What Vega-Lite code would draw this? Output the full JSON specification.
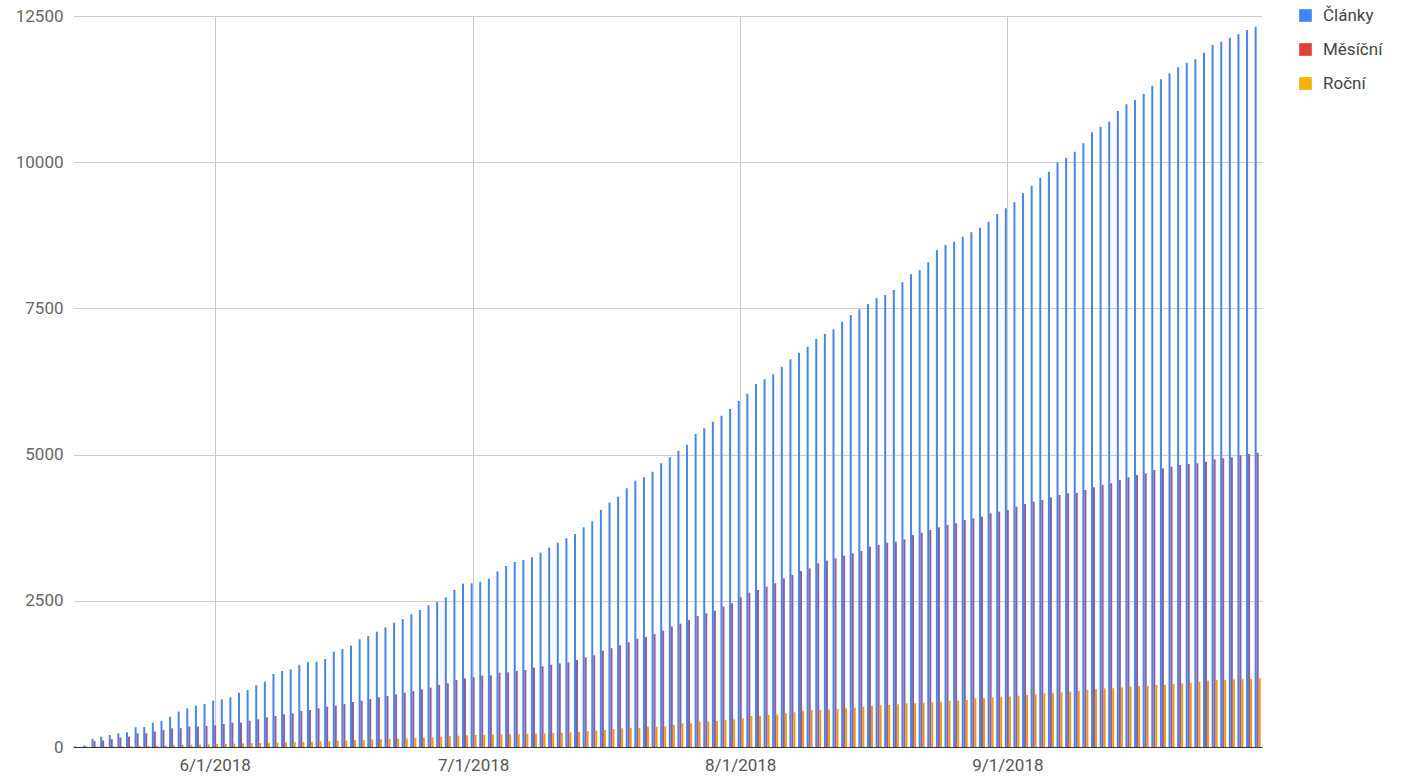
{
  "$schema": "https://vega.github.io/schema/vega-lite/v6.json",
  "width": 1189,
  "height": 731,
  "autosize": "none",
  "padding": {"left": 73, "top": 16, "right": 157, "bottom": 29},
  "background": "white",
  "config": {"view": {"stroke": null}, "font": "Roboto"},
  "data": {"values": [
    {"date":"2018-05-16","Články":10,"Měsíční":0,"Roční":0},
    {"date":"2018-05-17","Články":25,"Měsíční":10,"Roční":0},
    {"date":"2018-05-18","Články":140,"Měsíční":100,"Roční":5},
    {"date":"2018-05-19","Články":176,"Měsíční":110,"Roční":8},
    {"date":"2018-05-20","Články":205,"Měsíční":131,"Roční":10},
    {"date":"2018-05-21","Články":234,"Měsíční":160,"Roční":12},
    {"date":"2018-05-22","Články":251,"Měsíční":177,"Roční":15},
    {"date":"2018-05-23","Články":336,"Měsíční":234,"Roční":18},
    {"date":"2018-05-24","Články":340,"Měsíční":236,"Roční":20},
    {"date":"2018-05-25","Články":416,"Měsíční":262,"Roční":25},
    {"date":"2018-05-26","Články":445,"Měsíční":291,"Roční":28},
    {"date":"2018-05-27","Články":519,"Měsíční":319,"Roční":30},
    {"date":"2018-05-28","Články":604,"Měsíční":322,"Roční":35},
    {"date":"2018-05-29","Články":661,"Měsíční":348,"Roční":40},
    {"date":"2018-05-30","Články":707,"Měsíční":350,"Roční":42},
    {"date":"2018-05-31","Články":735,"Měsíční":359,"Roční":48},
    {"date":"2018-06-01","Články":792,"Měsíční":371,"Roční":52},
    {"date":"2018-06-02","Články":815,"Měsíční":393,"Roční":55},
    {"date":"2018-06-03","Články":850,"Měsíční":416,"Roční":58},
    {"date":"2018-06-04","Články":929,"Měsíční":418,"Roční":62},
    {"date":"2018-06-05","Články":975,"Měsíční":450,"Roční":65},
    {"date":"2018-06-06","Články":1055,"Měsíční":473,"Roční":68},
    {"date":"2018-06-07","Články":1117,"Měsíční":507,"Roční":72},
    {"date":"2018-06-08","Články":1248,"Měsíční":530,"Roční":75},
    {"date":"2018-06-09","Články":1300,"Měsíční":559,"Roční":78},
    {"date":"2018-06-10","Články":1328,"Měsíční":576,"Roční":82},
    {"date":"2018-06-11","Články":1402,"Měsíční":616,"Roční":85},
    {"date":"2018-06-12","Články":1453,"Měsíční":633,"Roční":90},
    {"date":"2018-06-13","Články":1460,"Měsíční":661,"Roční":95},
    {"date":"2018-06-14","Články":1505,"Měsíční":690,"Roční":100},
    {"date":"2018-06-15","Články":1630,"Měsíční":707,"Roční":108},
    {"date":"2018-06-16","Články":1676,"Měsíční":735,"Roční":112},
    {"date":"2018-06-17","Články":1733,"Měsíční":770,"Roční":118},
    {"date":"2018-06-18","Články":1841,"Měsíční":792,"Roční":122},
    {"date":"2018-06-19","Články":1898,"Měsíční":821,"Roční":128},
    {"date":"2018-06-20","Články":1972,"Měsíční":850,"Roční":132},
    {"date":"2018-06-21","Články":2047,"Měsíční":872,"Roční":138},
    {"date":"2018-06-22","Články":2126,"Měsíční":901,"Roční":142},
    {"date":"2018-06-23","Články":2189,"Měsíční":929,"Roční":148},
    {"date":"2018-06-24","Články":2269,"Měsíční":958,"Roční":152},
    {"date":"2018-06-25","Články":2343,"Měsíční":986,"Roční":158},
    {"date":"2018-06-26","Články":2423,"Měsíční":1015,"Roční":165},
    {"date":"2018-06-27","Články":2480,"Měsíční":1060,"Roční":175},
    {"date":"2018-06-28","Články":2560,"Měsíční":1089,"Roční":185},
    {"date":"2018-06-29","Články":2685,"Měsíční":1146,"Roční":195},
    {"date":"2018-06-30","Články":2793,"Měsíční":1174,"Roční":200},
    {"date":"2018-07-01","Články":2799,"Měsíční":1192,"Roční":205},
    {"date":"2018-07-02","Články":2827,"Měsíční":1220,"Roční":208},
    {"date":"2018-07-03","Články":2878,"Měsíční":1226,"Roční":212},
    {"date":"2018-07-04","Články":3004,"Měsíční":1271,"Roční":215},
    {"date":"2018-07-05","Články":3095,"Měsíční":1277,"Roční":218},
    {"date":"2018-07-06","Články":3164,"Měsíční":1300,"Roční":222},
    {"date":"2018-07-07","Články":3198,"Měsíční":1317,"Roční":226},
    {"date":"2018-07-08","Články":3244,"Měsíční":1357,"Roční":230},
    {"date":"2018-07-09","Články":3323,"Měsíční":1380,"Roční":234},
    {"date":"2018-07-10","Články":3408,"Měsíční":1408,"Roční":238},
    {"date":"2018-07-11","Články":3494,"Měsíční":1431,"Roční":244},
    {"date":"2018-07-12","Články":3569,"Měsíční":1448,"Roční":250},
    {"date":"2018-07-13","Články":3642,"Měsíční":1488,"Roční":256},
    {"date":"2018-07-14","Články":3757,"Měsíční":1534,"Roční":270},
    {"date":"2018-07-15","Články":3859,"Měsíční":1568,"Roční":280},
    {"date":"2018-07-16","Články":4053,"Měsíční":1647,"Roční":291},
    {"date":"2018-07-17","Články":4178,"Měsíční":1690,"Roční":308},
    {"date":"2018-07-18","Články":4280,"Měsíční":1740,"Roční":319},
    {"date":"2018-07-19","Články":4424,"Měsíční":1790,"Roční":322},
    {"date":"2018-07-20","Články":4554,"Měsíční":1850,"Roční":325},
    {"date":"2018-07-21","Články":4611,"Měsíční":1880,"Roční":348},
    {"date":"2018-07-22","Články":4708,"Měsíční":1930,"Roční":350},
    {"date":"2018-07-23","Články":4851,"Měsíční":1990,"Roční":352},
    {"date":"2018-07-24","Články":4954,"Měsíční":2060,"Roční":376},
    {"date":"2018-07-25","Články":5062,"Měsíční":2110,"Roční":405},
    {"date":"2018-07-26","Články":5169,"Měsíční":2170,"Roční":408},
    {"date":"2018-07-27","Články":5352,"Měsíční":2240,"Roční":433},
    {"date":"2018-07-28","Články":5450,"Měsíční":2286,"Roční":436},
    {"date":"2018-07-29","Články":5563,"Měsíční":2331,"Roční":445},
    {"date":"2018-07-30","Články":5665,"Měsíční":2400,"Roční":462},
    {"date":"2018-07-31","Články":5780,"Měsíční":2457,"Roční":473},
    {"date":"2018-08-01","Články":5917,"Měsíční":2559,"Roční":490},
    {"date":"2018-08-02","Články":6041,"Měsíční":2639,"Roční":530},
    {"date":"2018-08-03","Články":6207,"Měsíční":2685,"Roční":532},
    {"date":"2018-08-04","Články":6288,"Měsíční":2742,"Roční":547},
    {"date":"2018-08-05","Články":6373,"Měsíční":2799,"Roční":559},
    {"date":"2018-08-06","Články":6503,"Měsíční":2884,"Roční":576},
    {"date":"2018-08-07","Články":6630,"Měsíční":2941,"Roční":593},
    {"date":"2018-08-08","Články":6743,"Měsíční":3010,"Roční":621},
    {"date":"2018-08-09","Články":6845,"Měsíční":3055,"Roční":633},
    {"date":"2018-08-10","Články":6977,"Měsíční":3141,"Roční":635},
    {"date":"2018-08-11","Články":7062,"Měsíční":3186,"Roční":644},
    {"date":"2018-08-12","Články":7142,"Měsíční":3226,"Roční":650},
    {"date":"2018-08-13","Články":7273,"Měsíční":3272,"Roční":661},
    {"date":"2018-08-14","Články":7387,"Měsíční":3312,"Roční":673},
    {"date":"2018-08-15","Články":7485,"Měsíční":3352,"Roční":690},
    {"date":"2018-08-16","Články":7575,"Měsíční":3426,"Roční":701},
    {"date":"2018-08-17","Články":7673,"Měsíční":3454,"Roční":713},
    {"date":"2018-08-18","Články":7730,"Měsíční":3494,"Roční":718},
    {"date":"2018-08-19","Články":7815,"Měsíční":3511,"Roční":730},
    {"date":"2018-08-20","Články":7946,"Měsíční":3551,"Roční":747},
    {"date":"2018-08-21","Články":8083,"Měsíční":3625,"Roční":749},
    {"date":"2018-08-22","Články":8157,"Měsíční":3665,"Roční":758},
    {"date":"2018-08-23","Články":8288,"Měsíční":3711,"Roční":764},
    {"date":"2018-08-24","Články":8499,"Měsíční":3756,"Roční":775},
    {"date":"2018-08-25","Články":8584,"Měsíční":3796,"Roční":792},
    {"date":"2018-08-26","Články":8641,"Měsíční":3825,"Roční":794},
    {"date":"2018-08-27","Články":8727,"Měsíční":3882,"Roční":804},
    {"date":"2018-08-28","Články":8801,"Měsíční":3910,"Roční":832},
    {"date":"2018-08-29","Články":8880,"Měsíční":3939,"Roční":834},
    {"date":"2018-08-30","Články":8983,"Měsíční":3996,"Roční":849},
    {"date":"2018-08-31","Články":9114,"Měsíční":4024,"Roční":861},
    {"date":"2018-09-01","Články":9212,"Měsíční":4053,"Roční":863},
    {"date":"2018-09-02","Články":9314,"Měsíční":4110,"Roční":878},
    {"date":"2018-09-03","Články":9468,"Měsíční":4155,"Roční":889},
    {"date":"2018-09-04","Články":9598,"Měsíční":4195,"Roční":901},
    {"date":"2018-09-05","Články":9735,"Měsíční":4224,"Roční":918},
    {"date":"2018-09-06","Články":9838,"Měsíční":4269,"Roční":920},
    {"date":"2018-09-07","Články":9998,"Měsíční":4309,"Roční":935},
    {"date":"2018-09-08","Články":10077,"Měsíční":4338,"Roční":946},
    {"date":"2018-09-09","Články":10180,"Měsíční":4345,"Roční":958},
    {"date":"2018-09-10","Články":10323,"Měsíční":4395,"Roční":975},
    {"date":"2018-09-11","Články":10511,"Měsíční":4440,"Roční":986},
    {"date":"2018-09-12","Články":10607,"Měsíční":4480,"Roční":1003},
    {"date":"2018-09-13","Články":10693,"Měsíční":4509,"Roční":1005},
    {"date":"2018-09-14","Články":10876,"Měsíční":4566,"Roční":1020},
    {"date":"2018-09-15","Články":10990,"Měsíční":4611,"Roční":1032},
    {"date":"2018-09-16","Články":11064,"Měsíční":4651,"Roční":1043},
    {"date":"2018-09-17","Články":11166,"Měsíční":4680,"Roční":1045},
    {"date":"2018-09-18","Články":11308,"Měsíční":4737,"Roční":1060},
    {"date":"2018-09-19","Články":11418,"Měsíční":4765,"Roční":1062},
    {"date":"2018-09-20","Články":11520,"Měsíční":4794,"Roční":1077},
    {"date":"2018-09-21","Články":11623,"Měsíční":4822,"Roční":1089},
    {"date":"2018-09-22","Články":11702,"Měsíční":4839,"Roční":1100},
    {"date":"2018-09-23","Články":11760,"Měsíční":4851,"Roční":1117},
    {"date":"2018-09-24","Články":11873,"Měsíční":4879,"Roční":1134},
    {"date":"2018-09-25","Články":12004,"Měsíční":4919,"Roční":1146},
    {"date":"2018-09-26","Články":12061,"Měsíční":4936,"Roční":1148},
    {"date":"2018-09-27","Články":12129,"Měsíční":4953,"Roční":1157},
    {"date":"2018-09-28","Články":12187,"Měsíční":4990,"Roční":1159},
    {"date":"2018-09-29","Články":12261,"Měsíční":5010,"Roční":1163},
    {"date":"2018-09-30","Články":12317,"Měsíční":5030,"Roční":1174}
  ]},
  "transform": [{"fold": ["Články", "Měsíční", "Roční"], "as": ["series", "value"]}],
  "encoding": {
    "x": {
      "field": "date",
      "type": "ordinal",
      "sort": null,
      "scale": {"paddingInner": 0.3, "paddingOuter": 0.15},
      "axis": {
        "values": ["2018-06-01", "2018-07-01", "2018-08-01", "2018-09-01"],
        "labelExpr": "toNumber(slice(datum.value,5,7)) + '/' + toNumber(slice(datum.value,8,10)) + '/' + slice(datum.value,0,4)",
        "title": null,
        "labelAngle": 0,
        "ticks": false,
        "grid": true,
        "gridColor": "#cccccc",
        "gridWidth": 1,
        "bandPosition": 0.5,
        "domainColor": "#333333",
        "labelFont": "Roboto",
        "labelFontSize": 17,
        "labelColor": "#555555",
        "labelPadding": 10
      }
    },
    "y": {
      "field": "value",
      "type": "quantitative",
      "scale": {"domain": [0, 12500], "nice": false},
      "axis": {
        "values": [0, 2500, 5000, 7500, 10000, 12500],
        "format": "d",
        "title": null,
        "domain": false,
        "ticks": false,
        "gridColor": "#cccccc",
        "labelFont": "Roboto",
        "labelFontSize": 17,
        "labelColor": "#666666",
        "labelPadding": 10
      }
    }
  },
  "layer": [
    {
      "mark": {"type": "bar"},
      "encoding": {
        "xOffset": {"field": "series", "type": "nominal", "scale": {"domain": ["Články", "Měsíční", "Roční"]}},
        "color": {
          "field": "series",
          "type": "nominal",
          "scale": {"domain": ["Články", "Měsíční", "Roční"], "range": ["#4a86e8", "#8c5f9f", "#f09a12"]},
          "legend": null
        }
      }
    },
    {
      "transform": [{"filter": "datum.value < 0"}],
      "mark": {"type": "square"},
      "encoding": {
        "fill": {
          "field": "series",
          "type": "nominal",
          "scale": {"domain": ["Články", "Měsíční", "Roční"], "range": ["#4285F4", "#DB4437", "#F4B400"]},
          "legend": {
            "title": null,
            "orient": "none",
            "legendX": 1224,
            "legendY": -9,
            "direction": "vertical",
            "symbolType": "square",
            "symbolSize": 160,
            "symbolStrokeWidth": 0,
            "symbolOpacity": 1,
            "labelFont": "Roboto",
            "labelFontSize": 17,
            "labelColor": "#444444",
            "labelOffset": 9,
            "rowPadding": 16
          }
        }
      }
    }
  ],
  "resolve": {"scale": {"color": "independent", "fill": "independent"}}
}
